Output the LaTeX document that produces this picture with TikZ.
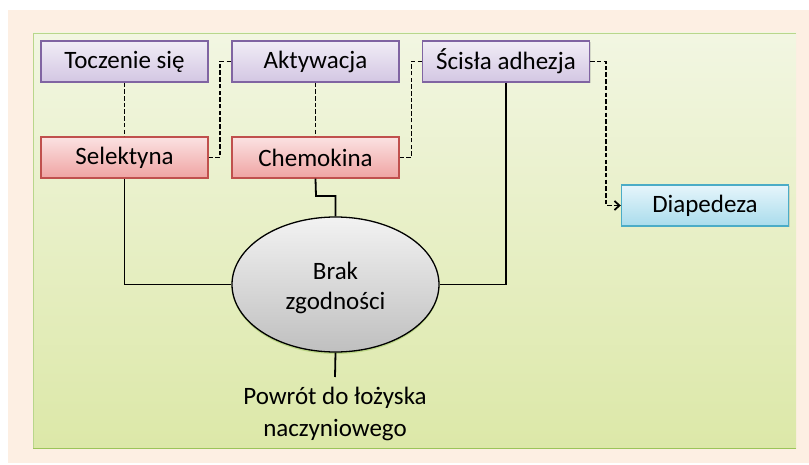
\documentclass[tikz,border=0pt]{standalone}
\usepackage{fontspec}
\setmainfont{Carlito}
\usetikzlibrary{arrows.meta,shapes.geometric,shadows}
\definecolor{peach}{HTML}{FDEFE3}
\definecolor{paneltop}{HTML}{F2F6E2}
\definecolor{panelbot}{HTML}{DCE8A8}
\definecolor{panelline}{HTML}{9BC45A}
\definecolor{purtop}{HTML}{F1EDF6}
\definecolor{purbot}{HTML}{D3C6E3}
\definecolor{purline}{HTML}{8064A2}
\definecolor{redtop}{HTML}{FBE2E2}
\definecolor{redbot}{HTML}{EFA3A2}
\definecolor{redline}{HTML}{C0504D}
\definecolor{blutop}{HTML}{E6F5FB}
\definecolor{blubot}{HTML}{A9DCEC}
\definecolor{bluline}{HTML}{4BACC6}
\tikzset{
  box/.style={draw, line width=1.4pt, minimum width=167pt, minimum height=41pt,
    inner sep=0pt, font=\fontsize{25}{28}\selectfont, text=black,
    drop shadow={shadow xshift=1pt, shadow yshift=-1.5pt, opacity=0.25}},
  purbox/.style={box, draw=purline, top color=purtop, bottom color=purbot},
  redbox/.style={box, draw=redline, top color=redtop, bottom color=redbot},
  blubox/.style={box, draw=bluline, top color=blutop, bottom color=blubot},
  hub/.style={ellipse, draw=black, line width=1.3pt, minimum width=207pt, minimum height=135pt,
    inner sep=0pt, top color=white!95!black, bottom color=black!25},
  hubtext/.style={align=center, font=\fontsize{25}{30}\selectfont, inner sep=0pt},
  solidlink/.style={line width=1.8pt, black},
  dashlink/.style={line width=1.8pt, black, dash pattern=on 4.5pt off 2.2pt},
}
\begin{document}
\begin{tikzpicture}[x=1pt,y=-1pt]
  \useasboundingbox (0,0) rectangle (809,465);
  % page backdrop and panel
  \fill[peach] (8,10) rectangle (809,463);
  \shade[top color=paneltop, bottom color=panelbot] (33,33) rectangle (796,448);
  \draw[panelline!70, line width=0.6pt] (33,448) -- (33,33) -- (796,33);
  \draw[panelline, line width=1pt] (33,448) -- (796,448);

  % nodes
  \node[purbox] (toc) at (124.5,61.5) {Toczenie się};
  \node[purbox] (akt) at (315.5,61.5) {Aktywacja};
  \node[purbox] (sci) at (506,61.5) {Ścisła adhezja};
  \node[redbox] (sel) at (124.5,157.5) {Selektyna};
  \node[redbox] (che) at (315.5,157.5) {Chemokina};
  \node[blubox] (dia) at (705,205.5) {Diapedeza};
  \node[hub, drop shadow={shadow xshift=0pt, shadow yshift=-2pt, opacity=0.5, fill=panelline}]
    (brak) at (335.5,284.5) {};
  \node[hubtext] (braktxt) at (335.5,288) {Brak\\zgodności};
  \node[align=center, font=\fontsize{25}{32}\selectfont, inner sep=0pt] (pow) at (335,414)
    {Powrót do łożyska\\naczyniowego};
  \coordinate (powtop) at (335,377);

  % dashed sequence links
  \draw[dashlink] (toc.south) -- (sel.north);
  \draw[dashlink] (akt.south) -- (che.north);
  \draw[dashlink] (sel.east) -| (220,61.5) -- (akt.west);
  \draw[dashlink] (che.east) -| (411.5,61.5) -- (sci.west);
  \draw[dashlink, -{Straight Barb[length=5pt, width=9pt, line width=1.8pt]}]
    (sci.east) -| (606,205.5) -- (dia.west);

  % solid links to the hub
  \draw[solidlink] (sel.south) |- (brak.west);
  \draw[solidlink] (che.south) -- (316,196) -| (brak.north);
  \draw[solidlink] (sci.south) |- (brak.east);
  \draw[solidlink] (brak.south) -- (powtop);
\end{tikzpicture}
\end{document}
